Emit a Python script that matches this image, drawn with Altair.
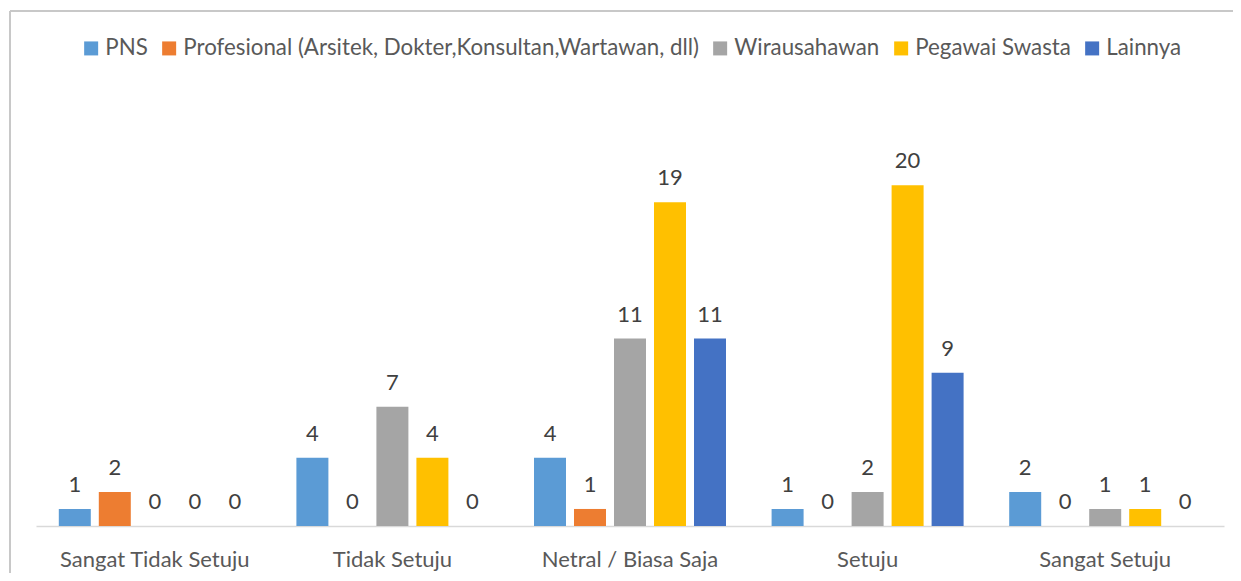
import altair as alt
import pandas as pd

categories = ["Sangat Tidak Setuju", "Tidak Setuju", "Netral / Biasa Saja", "Setuju", "Sangat Setuju"]
series = ["PNS", "Profesional (Arsitek, Dokter,Konsultan,Wartawan, dll)", "Wirausahawan", "Pegawai Swasta", "Lainnya"]
colors = ["#5B9BD5", "#ED7D31", "#A5A5A5", "#FFC000", "#4472C4"]

pns = [1, 4, 4, 1, 2]
profesional = [2, 0, 1, 0, 0]
wirausahawan = [0, 7, 11, 2, 1]
pegawai_swasta = [0, 4, 19, 20, 1]
lainnya = [0, 0, 11, 9, 0]

values_by_series = [pns, profesional, wirausahawan, pegawai_swasta, lainnya]
rows = []
for s, vals in zip(series, values_by_series):
    for c, v in zip(categories, vals):
        rows.append({"category": c, "series": s, "value": v})
df = pd.DataFrame(rows)

FONT = "Lato"

x = alt.X("category:N", sort=categories, title=None,
          scale=alt.Scale(paddingInner=0, paddingOuter=0),
          axis=alt.Axis(labelAngle=0, ticks=False, labelPadding=40, labelBaseline="alphabetic",
                        labelFontSize=22, labelFont=FONT, labelColor="#595959", labelLimit=0,
                        domainColor="#d9d9d9", domainWidth=1.3, grid=False))
xo = alt.XOffset("series:N", sort=series, scale=alt.Scale(paddingInner=0.2, paddingOuter=0.57))
y = alt.Y("value:Q", scale=alt.Scale(domain=[0, 25], nice=False), axis=None)

bars = alt.Chart(df).mark_bar().encode(
    x=x, xOffset=xo, y=y,
    color=alt.Color("series:N", sort=series,
                    scale=alt.Scale(domain=series, range=colors),
                    legend=alt.Legend(orient="none", legendX=44, legendY=-63, direction="horizontal",
                                      columns=5, title=None, symbolType="square", symbolSize=196,
                                      symbolStrokeWidth=0, labelFontSize=22.3, labelFont=FONT,
                                      labelColor="#595959", columnPadding=10, labelOffset=3,
                                      padding=0, labelLimit=0)),
)

labels = alt.Chart(df).mark_text(baseline="alphabetic", dy=-17, fontSize=22, font=FONT, color="#404040").encode(
    x=x, xOffset=xo, y=y, text="value:Q"
)

frame_top = alt.Chart(alt.Data(values=[{"a": 1}])).mark_rule(color="#c8c8c8", strokeWidth=2).encode(
    x=alt.value(-26), x2=alt.value(1210), y=alt.value(-89)
)
frame_left = alt.Chart(alt.Data(values=[{"a": 1}])).mark_rule(color="#c8c8c8", strokeWidth=2).encode(
    x=alt.value(-26), y=alt.value(-89), y2=alt.value(480)
)

chart = alt.layer(bars, labels, frame_top, frame_left).properties(
    width=1188, height=426,
    autosize=alt.AutoSizeParams(type="none"),
    padding={"left": 28, "top": 92, "right": 9, "bottom": 47},
).configure_view(stroke=None)

chart.save("out.html", embed_options={"renderer": "svg", "actions": False})
